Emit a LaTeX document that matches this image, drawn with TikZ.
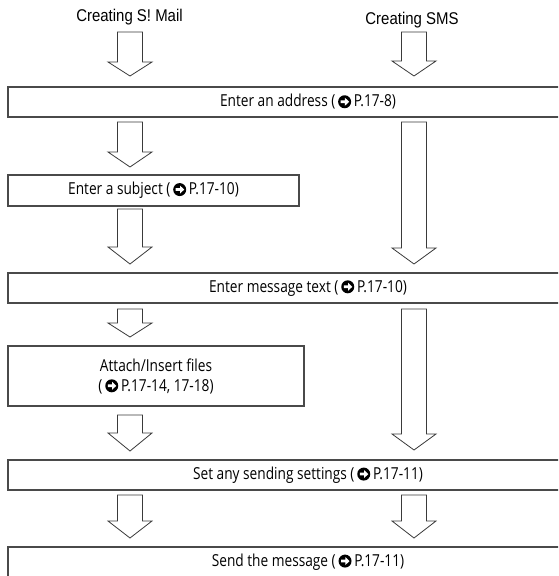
\documentclass[tikz,border=0pt]{standalone}
\usepackage{fontspec}
\setmainfont{Open Sans}[FakeStretch=0.83]
\newfontfamily\titlefont{Liberation Sans}[FakeStretch=0.88]
\definecolor{boxgray}{HTML}{4A4A4A}
\definecolor{arrgray}{HTML}{3A3A3A}
\newsavebox{\goboxA}
\newcommand\goarrow{\raisebox{-1.3pt}{\usebox{\goboxA}}}
\newcommand\blockarrow[4]{\draw[barrow] (#1-12.5,#2) coordinate (#1-#2-top) -- (#1+12.5,#2) -- (#1+12.5,#3) -- (#1+22,#3) -- (#1,#4) coordinate (#1-#2-tip) -- (#1-22,#3) -- (#1-12.5,#3) -- cycle;}
\begin{document}
\sbox{\goboxA}{\pgfpicture
\pgfsetfillcolor{black}\pgfpathcircle{\pgfpointorigin}{6.5pt}\pgfusepath{fill}%
\pgfsetfillcolor{white}%
\pgfpathmoveto{\pgfpoint{-4pt}{1.4pt}}\pgfpathlineto{\pgfpoint{0.3pt}{1.4pt}}\pgfpathlineto{\pgfpoint{0.3pt}{4pt}}\pgfpathlineto{\pgfpoint{4.5pt}{0pt}}\pgfpathlineto{\pgfpoint{0.3pt}{-4pt}}\pgfpathlineto{\pgfpoint{0.3pt}{-1.4pt}}\pgfpathlineto{\pgfpoint{-4pt}{-1.4pt}}\pgfpathclose\pgfusepath{fill}%
\endpgfpicture}%
\begin{tikzpicture}[x=1pt,y=-1pt,
  box/.style={draw=boxgray, line width=1.3pt, inner sep=0pt, align=center, font=\fontsize{16.5}{20}\selectfont},
  title/.style={inner sep=0pt, font=\titlefont\fontsize{17}{20}\selectfont},
  barrow/.style={draw=arrgray, fill=white, line width=0.8pt, line join=miter}]
\clip (0,0) rectangle (558,576);
\node[title] (tmail) at (129.5,17) {Creating S! Mail};
\node[title] (tsms) at (412,20) {Creating SMS};
\node[box, minimum width=600pt, minimum height=30pt] (addr) at (308,102) {Enter an address (\,\goarrow\,P.17-8)};
\node[box, minimum width=291pt, minimum height=31pt] (subj) at (153.5,190.5) {Enter a subject (\,\goarrow\,P.17-10)};
\node[box, minimum width=600pt, minimum height=30pt] (msg) at (308,288) {Enter message text (\,\goarrow\,P.17-10)};
\node[box, minimum width=296pt, minimum height=60pt] (att) at (156,376) {Attach/Insert files\\(\,\goarrow\,P.17-14, 17-18)};
\node[box, minimum width=600pt, minimum height=30pt] (set) at (308,475) {Set any sending settings (\,\goarrow\,P.17-11)};
\node[box, minimum width=600pt, minimum height=30pt] (send) at (308,562) {Send the message (\,\goarrow\,P.17-11)};
\blockarrow{130}{32}{62}{76}
\blockarrow{414}{32}{61}{76}
\blockarrow{130}{122}{152}{167}
\blockarrow{414}{122}{248}{264}
\blockarrow{130}{209}{247}{264}
\blockarrow{130}{309}{323}{337}
\blockarrow{130}{415}{433}{451}
\blockarrow{414}{309}{434}{450}
\blockarrow{130}{495}{521}{538}
\blockarrow{414}{495}{521}{538}
\end{tikzpicture}
\end{document}
